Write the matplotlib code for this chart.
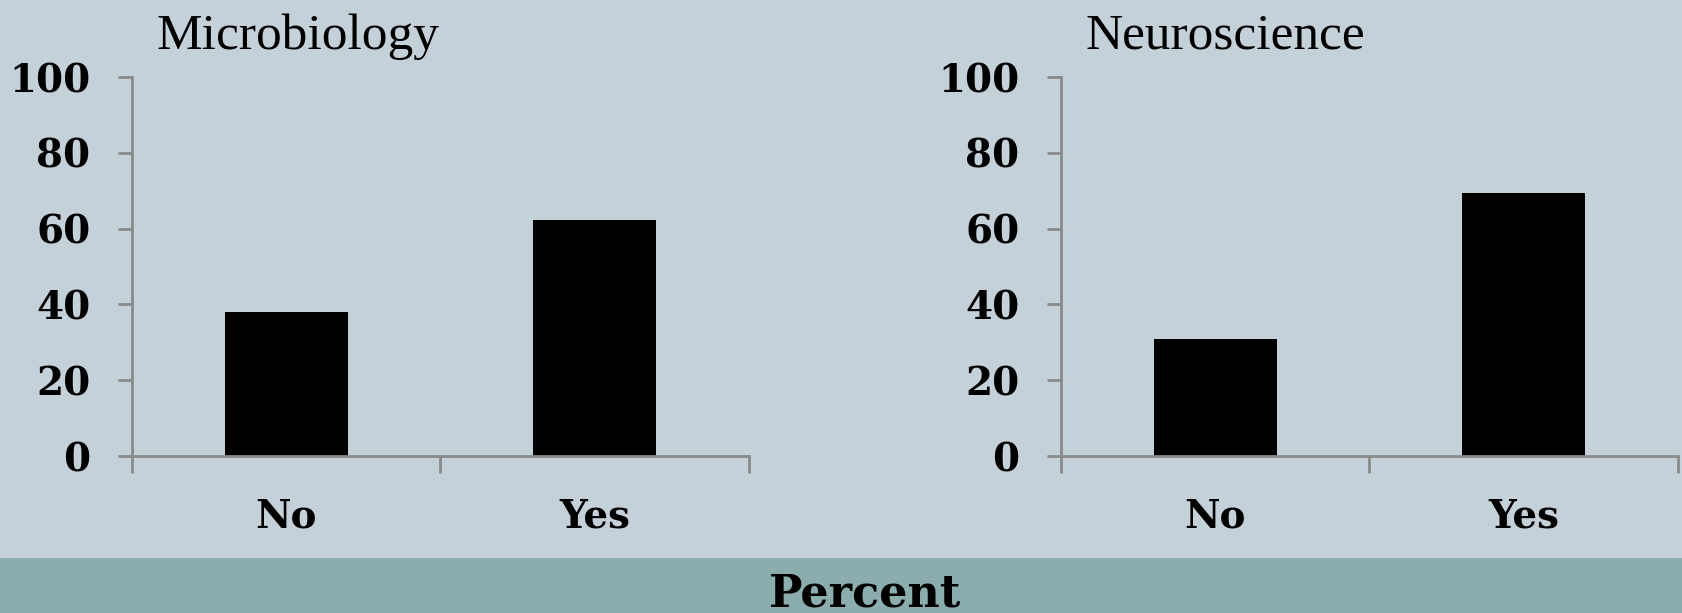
import numpy as np
import matplotlib.pyplot as plt
from matplotlib.patches import Rectangle

categories = ["No", "Yes"]
micro_values = [38.0, 62.2]
neuro_values = [31.0, 69.4]
titles = ["Microbiology", "Neuroscience"]
yticks = [0, 20, 40, 60, 80, 100]

bg = "#c5d1d8"
band = "#8badae"
axis_gray = "#8a8a8a"

fig = plt.figure(figsize=(16.83, 6.13), dpi=100)
fig.patch.set_facecolor(bg)
fig.patches.append(Rectangle((0, 0), 1, 55 / 613, transform=fig.transFigure,
                             facecolor=band, edgecolor="none", zorder=0))

positions = [[132 / 1683, 157 / 613, 617 / 1683, 379 / 613],
             [1061 / 1683, 157 / 613, 617 / 1683, 379 / 613]]

for pos, title, vals in zip(positions, titles, [micro_values, neuro_values]):
    ax = fig.add_axes(pos)
    ax.set_facecolor("none")
    xs = np.arange(len(categories))
    ax.bar(xs, vals, width=0.4, color="black")
    ax.set_xlim(-0.5, 1.5)
    ax.set_ylim(0, 100)
    ax.set_yticks(yticks)
    ax.set_yticklabels([str(t) for t in yticks], fontfamily="DejaVu Serif",
                       fontweight="bold", fontsize=28)
    ax.set_xticks(xs)
    ax.set_xticklabels(categories, fontfamily="DejaVu Serif", fontweight="bold", fontsize=28)
    ax.set_xticks([-0.5, 0.5, 1.5], minor=True)
    ax.tick_params(axis="x", which="major", length=0, pad=30)
    ax.tick_params(axis="x", which="minor", length=12, width=2, color=axis_gray)
    ax.tick_params(axis="y", length=10, width=2, color=axis_gray, pad=20)
    for s in ["top", "right"]:
        ax.spines[s].set_visible(False)
    for s in ["left", "bottom"]:
        ax.spines[s].set_color(axis_gray)
        ax.spines[s].set_linewidth(2)
    ax.text(0.04, 1.045, title, transform=ax.transAxes, fontfamily="Liberation Serif",
            fontsize=37, ha="left", va="bottom")

fig.text(865 / 1683, 19 / 613, "Percent", fontfamily="DejaVu Serif", fontweight="bold",
         fontsize=32, ha="center", va="center")

fig.savefig("out.png", dpi=100, facecolor=bg)
